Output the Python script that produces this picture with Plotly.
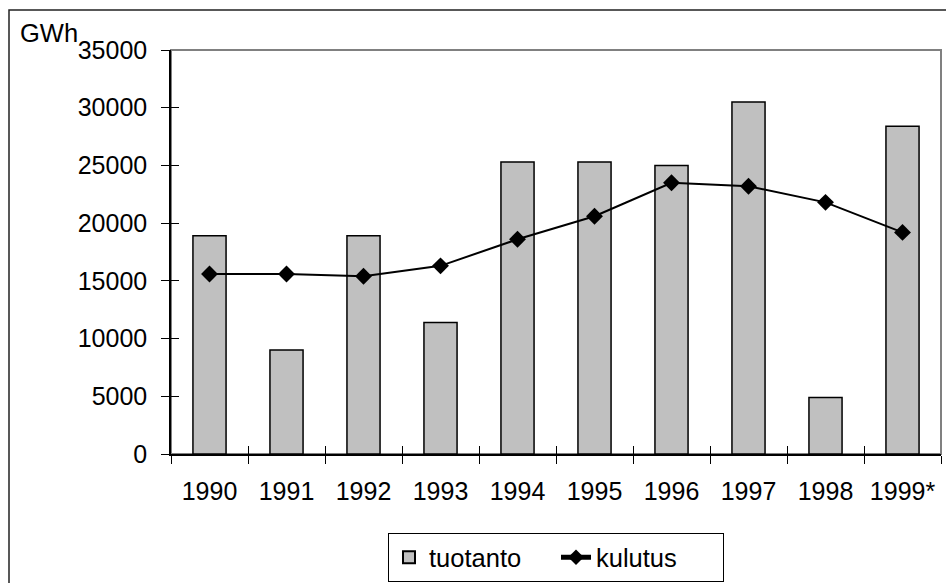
import plotly.graph_objects as go

years = ["1990", "1991", "1992", "1993", "1994", "1995", "1996", "1997", "1998", "1999*"]
tuotanto = [18900, 9000, 18900, 11400, 25300, 25300, 25000, 30500, 4900, 28400]
kulutus = [15600, 15600, 15400, 16300, 18600, 20600, 23500, 23200, 21800, 19200]
y_ticks = [0, 5000, 10000, 15000, 20000, 25000, 30000, 35000]

FONT = "Liberation Sans, Arial, sans-serif"
W, H = 946, 583
L, R, T, B = 171, 5, 50, 129
pw, ph = W - L - R, H - T - B

fig = go.Figure()
fig.add_trace(go.Bar(
    x=years, y=tuotanto, name="tuotanto",
    marker=dict(color="#c0c0c0", line=dict(color="black", width=1.5)),
))
fig.add_trace(go.Scatter(
    x=years, y=kulutus, name="kulutus", mode="lines+markers",
    line=dict(color="black", width=2),
    marker=dict(symbol="diamond", size=13, color="black"),
))
# invisible trace to drive overlay axes (inside tick halves)
fig.add_trace(go.Scatter(
    x=years, y=kulutus, xaxis="x2", yaxis="y2", mode="markers",
    marker=dict(opacity=0), showlegend=False, hoverinfo="skip",
))

fig.update_layout(
    width=W, height=H,
    margin=dict(l=L, r=R, t=T, b=B, autoexpand=False),
    paper_bgcolor="white", plot_bgcolor="white",
    font=dict(family=FONT, size=25, color="black"),
    bargap=0.57,
    xaxis=dict(
        type="category", categoryarray=years, range=[-0.5, 9.5],
        showline=True, linecolor="black", linewidth=1.5,
        ticks="outside", ticklen=8, tickcolor="black", tickwidth=1.2,
        tickson="boundaries", showgrid=False, zeroline=False,
        ticklabelstandoff=14,
    ),
    yaxis=dict(
        range=[0, 35000], tickvals=y_ticks, tickformat="d",
        showline=True, linecolor="black", linewidth=1.5,
        ticks="outside", ticklen=8, tickcolor="black", tickwidth=1.2,
        showgrid=False, zeroline=False, ticklabelstandoff=9,
    ),
    xaxis2=dict(
        type="category", categoryarray=years, range=[-0.5, 9.5],
        overlaying="x", anchor="y", showline=False,
        ticks="inside", ticklen=8, tickcolor="black", tickwidth=1.2,
        tickson="boundaries", showticklabels=False, showgrid=False, zeroline=False,
    ),
    yaxis2=dict(
        range=[0, 35000], tickvals=y_ticks, overlaying="y", anchor="x", side="left",
        showline=False, ticks="inside", ticklen=8, tickcolor="black", tickwidth=1.2,
        showticklabels=False, showgrid=False, zeroline=False,
    ),
    legend=dict(
        orientation="h", x=0.5, xanchor="center", y=-0.196, yanchor="top",
        bordercolor="black", borderwidth=1, bgcolor="white",
        font=dict(family=FONT, size=25.5, color="black"),
        entrywidth=122, entrywidthmode="pixels",
        itemsizing="constant", tracegroupgap=0,
    ),
    showlegend=True,
)

# plot-area border (gray) and outer chart border
fig.add_shape(type="rect", xref="paper", yref="paper", x0=0, x1=1, y0=0, y1=1,
              line=dict(color="#808080", width=2), layer="below")
fig.add_shape(type="rect", xref="paper", yref="paper",
              x0=(9 - L) / pw, x1=(W + 10 - L) / pw,
              y0=-(H + 10 - T - ph) / ph, y1=(H - B - 10) / ph,
              line=dict(color="#222222", width=1.5), layer="below")

fig.add_annotation(text="GWh", xref="paper", yref="paper",
                   x=(18 - L) / pw, y=(H - B - 33) / ph, xanchor="left", yanchor="middle",
                   showarrow=False, font=dict(family=FONT, size=25.5, color="black"))

fig.write_html("out.html", config={"displayModeBar": False},
               post_script="document.body.style.margin='0';document.body.style.overflow='hidden';")
